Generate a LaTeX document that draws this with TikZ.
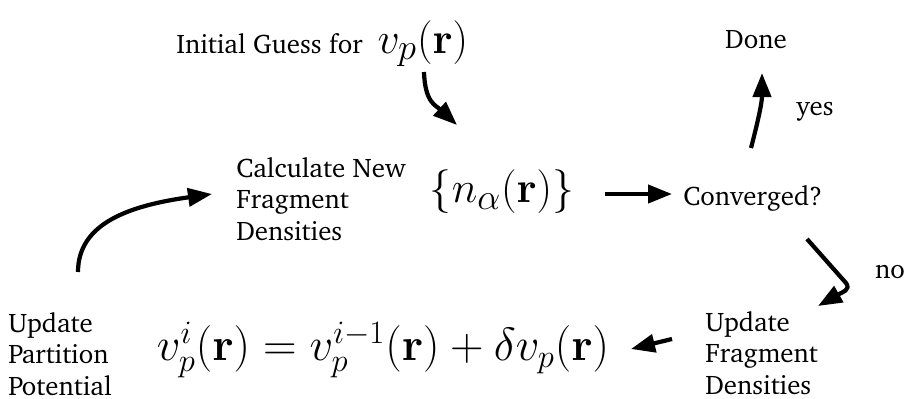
\documentclass[tikz,border=0pt]{standalone}
\usepackage{fix-cm}
\usepackage[T1]{fontenc}
\usepackage{charter}
\usepackage{amsmath}
\usetikzlibrary{positioning,arrows.meta,calc}

\begin{document}
\begin{tikzpicture}[
      x=1cm, y=1cm,
      lbl/.style={font=\fontsize{15.3}{18}\selectfont, inner sep=0pt, align=left},
      eqn/.style={font=\Huge, inner sep=0pt},
      farrow/.style={-{Triangle[length=4.8mm,width=3.6mm]}, line width=2.4pt, color=black},
    ]
      \useasboundingbox (0,0) rectangle (18.14,7.96);

      \node[lbl, anchor=base west] (guess) at (3.52,6.9) {Initial Guess for \ {\Huge\(v_p(\mathbf{r})\)}};
      \node[lbl, anchor=west] (calc) at (4.72,3.98) {Calculate New\\Fragment\\Densities};
      \node[eqn] (dens) at (10.04,4.12) {\(\{n_\alpha(\mathbf{r})\}\)};
      \node[lbl, anchor=west] (conv) at (13.66,4.0) {Converged?};
      \node[lbl] (done) at (15.12,7.16) {Done};
      \node[lbl] (yes) at (16.3,5.72) {yes};
      \node[lbl] (no) at (17.8,2.52) {no};
      \node[lbl, anchor=west] (upd) at (14.1,0.9) {Update\\Fragment\\Densities};
      \node[eqn, font=\fontsize{26.5}{31}\selectfont] (eq) at (7.66,0.96) {\(v_p^i(\mathbf{r}) = v_p^{i-1}(\mathbf{r}) + \delta v_p(\mathbf{r})\)};
      \node[lbl, anchor=west] (pot) at (0.16,0.88) {Update\\Partition\\Potential};

      \coordinate (guessOut) at (8.48,6.52);
      \coordinate (densIn) at (9.14,5.46);
      \coordinate (densOut) at (12.1,4.08);
      \coordinate (convIn) at (13.44,4.08);
      \coordinate (yesFrom) at (15.02,5.0);
      \coordinate (doneIn) at (15.24,6.5);
      \coordinate (noFrom) at (16.14,3.18);
      \coordinate (noBend) at (16.92,2.3);
      \coordinate (updIn) at (16.36,1.84);
      \coordinate (updOut) at (13.44,1.18);
      \coordinate (eqIn) at (12.62,0.98);
      \coordinate (potOut) at (1.56,2.52);
      \coordinate (calcIn) at (4.24,4.08);

      \draw[farrow] (guessOut) .. controls (8.5,5.9) and (8.72,5.85) .. (densIn);
      \draw[farrow] (densOut) -- (convIn);
      \draw[farrow] (yesFrom) .. controls (15.15,5.5) and (15.24,5.9) .. (doneIn);
      \draw[farrow] (noFrom) -- (noBend) .. controls (17.02,2.16) and (16.85,2.12) .. (updIn);
      \draw[farrow] (updOut) -- (eqIn);
      \draw[farrow] (potOut) .. controls (1.56,3.5) and (2.6,3.85) .. (calcIn);
    \end{tikzpicture}
\end{document}
